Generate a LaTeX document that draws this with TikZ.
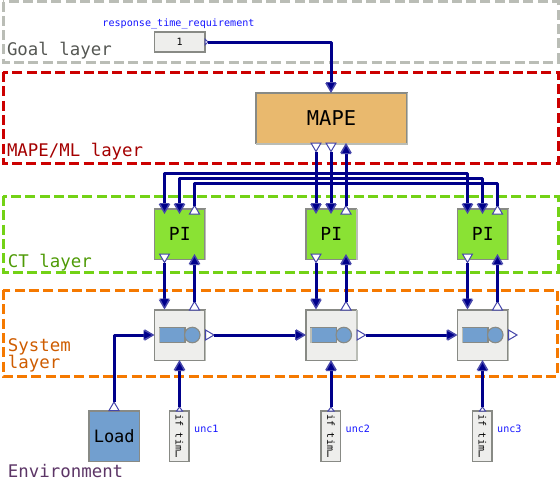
\documentclass[tikz,border=0pt]{standalone}
\usepackage{fontspec}
\setmainfont{DejaVu Sans Mono}
\usetikzlibrary{arrows.meta}
\definecolor{wire}{RGB}{0,0,139}
\definecolor{portedge}{RGB}{70,70,170}
\definecolor{halo}{RGB}{70,70,170}
\definecolor{blockedge}{HTML}{888A85}
\definecolor{blockshade}{HTML}{BABDB6}
\definecolor{graybg}{HTML}{EEEEEC}
\definecolor{pigreen}{HTML}{8AE234}
\definecolor{mapeorange}{HTML}{E9B96E}
\definecolor{skyblue}{HTML}{729FCF}
\definecolor{labelblue}{RGB}{20,20,255}
\definecolor{lred}{HTML}{CC0000}
\definecolor{lgreen}{HTML}{73D216}
\definecolor{lorange}{HTML}{F57900}
\definecolor{tgoal}{HTML}{555753}
\definecolor{tmape}{HTML}{A40000}
\definecolor{tct}{HTML}{4E9A06}
\definecolor{tsys}{HTML}{CE5C00}
\definecolor{tenv}{HTML}{5C3566}
\tikzset{
  layerbox/.style={draw=#1,line width=3pt,dash pattern=on 10pt off 4.3pt},
  layertext/.style={anchor=base west,inner sep=0pt,outer sep=0pt,font=\fontsize{17.4pt}{17pt}\selectfont,text=#1},
  blockbase/.style={draw=blockedge,line width=1.1pt,minimum width=50.5pt,minimum height=50.5pt,inner sep=0pt,outer sep=0pt,anchor=north west},
  piblock/.style={blockbase,fill=pigreen,font=\fontsize{18pt}{20pt}\selectfont},
  sysblock/.style={blockbase,fill=graybg},
  uncblock/.style={draw=blockedge,line width=1.1pt,fill=graybg,minimum width=19.5pt,minimum height=50.5pt,inner sep=0pt,outer sep=0pt,anchor=north west},
  smalllabel/.style={text=labelblue,inner sep=0pt,font=\fontsize{10.1pt}{10pt}\selectfont},
  conn/.style={draw=wire,line width=3pt,line join=round},
  arrowconn/.style={conn,-{Triangle[width=10pt,length=10pt,fill=wire,color=halo,line width=.7pt]}},
  twotips/.style={conn,{Triangle[width=10pt,length=10pt,fill=wire,color=halo,line width=.7pt]}-{Triangle[width=10pt,length=10pt,fill=wire,color=halo,line width=.7pt]}},
  porttri/.style={draw=portedge,line width=1pt,fill=white,line join=miter},
  shade/.style={draw=blockshade,line width=1.5pt}
}
% white port triangle: tip at (#1,#2), pointing by unit vector (#3,#4)
\newcommand{\porttriangle}[4]{%
  \draw[porttri] (#1,#2) -- ({#1-8.5*(#3)+5*(#4)},{#2-8.5*(#4)+5*(#3)}) -- ({#1-8.5*(#3)-5*(#4)},{#2-8.5*(#4)-5*(#3)}) -- cycle;}
\begin{document}
\begin{tikzpicture}[x=1pt,y=-1pt]
\useasboundingbox (0,0) rectangle (560,480);
% layers
\draw[layerbox=blockshade] (3,1.5) rectangle (558,62);
\draw[layerbox=lred] (3,72) rectangle (558,163);
\draw[layerbox=lgreen] (3,196) rectangle (558,272);
\draw[layerbox=lorange] (3,290) rectangle (557,376);
\node[layertext=tgoal] (goallabel) at (7,55) {Goal layer};
\node[layertext=tmape] (mapelabel) at (7,156) {MAPE/ML layer};
\node[layertext=tct] (ctlabel) at (8,267) {CT layer};
\node[layertext=tsys] (syslabela) at (8,351) {System};
\node[layertext=tsys] (syslabelb) at (8,368) {layer};
\node[layertext=tenv] (envlabel) at (8,477) {Environment};
% goal constant
\node[draw=blockedge,line width=1.1pt,fill=graybg,minimum width=50.5pt,minimum height=20pt,inner sep=0pt,outer sep=0pt,anchor=north west,font=\fontsize{10pt}{10pt}\selectfont] (goal) at (154.5,32) {1};
\node[smalllabel] (goalname) at (178.5,23.5) {response\_time\_requirement};
% MAPE
\node[blockbase,fill=mapeorange,minimum width=151pt,font=\fontsize{20.4pt}{22pt}\selectfont] (mape) at (256,93) {\raisebox{1pt}{MAPE}};
\draw[shade] (256,143.8) -- (407.5,143.8) -- (407.5,93);
% columns
\foreach \i/\xx in {1/154.5,2/306,3/457.5}{
  \node[piblock] (pi\i) at (\xx,209) {\raisebox{-1pt}{PI}};
  \node[sysblock] (sys\i) at (\xx,310) {};
  \draw[shade] (\xx+51,209) -- (\xx+51,259.5);
  \draw[shade] (\xx+51,310) -- (\xx+51,360.5);
  \node[draw=blockedge,fill=skyblue,line width=1.1pt,minimum width=25.5pt,minimum height=15.5pt,inner sep=0pt,outer sep=0pt,anchor=west] (tank\i) at (\xx+5,335) {};
  \draw[blockshade,line width=1.5pt] (\xx+5,327.5) -- (\xx+5,342.5);
  \node[draw=blockedge,fill=skyblue,line width=1.1pt,circle,minimum size=15.5pt,inner sep=0pt] (valve\i) at (\xx+37.8,335) {};
  \node[uncblock] (unc\i) at (\xx+15,411) {};
  \node[inner sep=0pt,rotate=-90,font=\fontsize{10pt}{10pt}\selectfont] (unctext\i) at (\xx+25,436) {if tim…};
  \node[smalllabel,anchor=base west] (uncname\i) at (\xx+39.5,432) {unc\i};
  % port positions
  \coordinate (pitopa\i) at (\xx+10,213);
  \coordinate (pitopb\i) at (\xx+25,213);
  \coordinate (pitopc\i) at (\xx+40,205.5);
  \coordinate (pibota\i) at (\xx+10,262.5);
  \coordinate (pibotb\i) at (\xx+40,255);
  \coordinate (systopa\i) at (\xx+10,308.5);
  \coordinate (systopb\i) at (\xx+40,301.5);
  \coordinate (sysbot\i) at (\xx+25,361);
  \coordinate (sysin\i) at (\xx-1,335);
  \coordinate (sysout\i) at (\xx+59.5,335);
  \coordinate (unctop\i) at (\xx+25,407);
  % port triangles
  \porttriangle{\xx+10}{213}{0}{1}
  \porttriangle{\xx+25}{213}{0}{1}
  \porttriangle{\xx+40}{205.5}{0}{-1}
  \porttriangle{\xx+10}{262.5}{0}{1}
  \porttriangle{\xx+40}{255}{0}{-1}
  \porttriangle{\xx+10}{308.5}{0}{1}
  \porttriangle{\xx+40}{301.5}{0}{-1}
  \porttriangle{\xx+25}{361}{0}{-1}
  \porttriangle{\xx-1}{335}{1}{0}
  \porttriangle{\xx+59.5}{335}{1}{0}
  \draw[porttri] (\xx+25,407) -- (\xx+22,411) -- (\xx+28,411) -- cycle;
}
% load
\node[blockbase,fill=skyblue,font=\fontsize{17pt}{20pt}\selectfont] (load) at (89,411) {Load};
\coordinate (loadtop) at (114,402);
\porttriangle{114}{402}{0}{-1}
% MAPE ports
\coordinate (mapeouta) at (316,151.5);
\coordinate (mapeoutb) at (331,151.5);
\coordinate (mapein) at (346,144);
\coordinate (mapetop) at (331,92);
\coordinate (goalout) at (208,42);
\porttriangle{316}{151.5}{0}{1}
\porttriangle{331}{151.5}{0}{1}
\porttriangle{346}{144}{0}{-1}
\porttriangle{331}{92}{0}{1}
\draw[porttri] (208,42) -- (205,39) -- (205,45) -- cycle;
% connectors
\draw[arrowconn] (goalout) -| (mapetop);
\draw[arrowconn] (mapeouta) -- (pitopa2);
\draw[arrowconn] (mapeoutb) -- (pitopb2);
\draw[arrowconn] (pitopc2) -- (mapein);
\draw[twotips] (pitopa1) -- (pitopa1 |- 0,173) -- (pitopa3 |- 0,173) -- (pitopa3);
\draw[twotips] (pitopb1) -- (pitopb1 |- 0,178) -- (pitopb3 |- 0,178) -- (pitopb3);
\draw[conn] (pitopc1) -- (pitopc1 |- 0,183) -- (pitopc3 |- 0,183) -- (pitopc3);
\foreach \i in {1,2,3}{
  \draw[arrowconn] (pibota\i) -- (systopa\i);
  \draw[arrowconn] (systopb\i) -- (pibotb\i);
  \draw[arrowconn] (unctop\i) -- (sysbot\i);
}
\draw[arrowconn] (loadtop) |- (sysin1);
\draw[arrowconn] (sysout1) -- (sysin2);
\draw[arrowconn] (sysout2) -- (sysin3);
\end{tikzpicture}
\end{document}
